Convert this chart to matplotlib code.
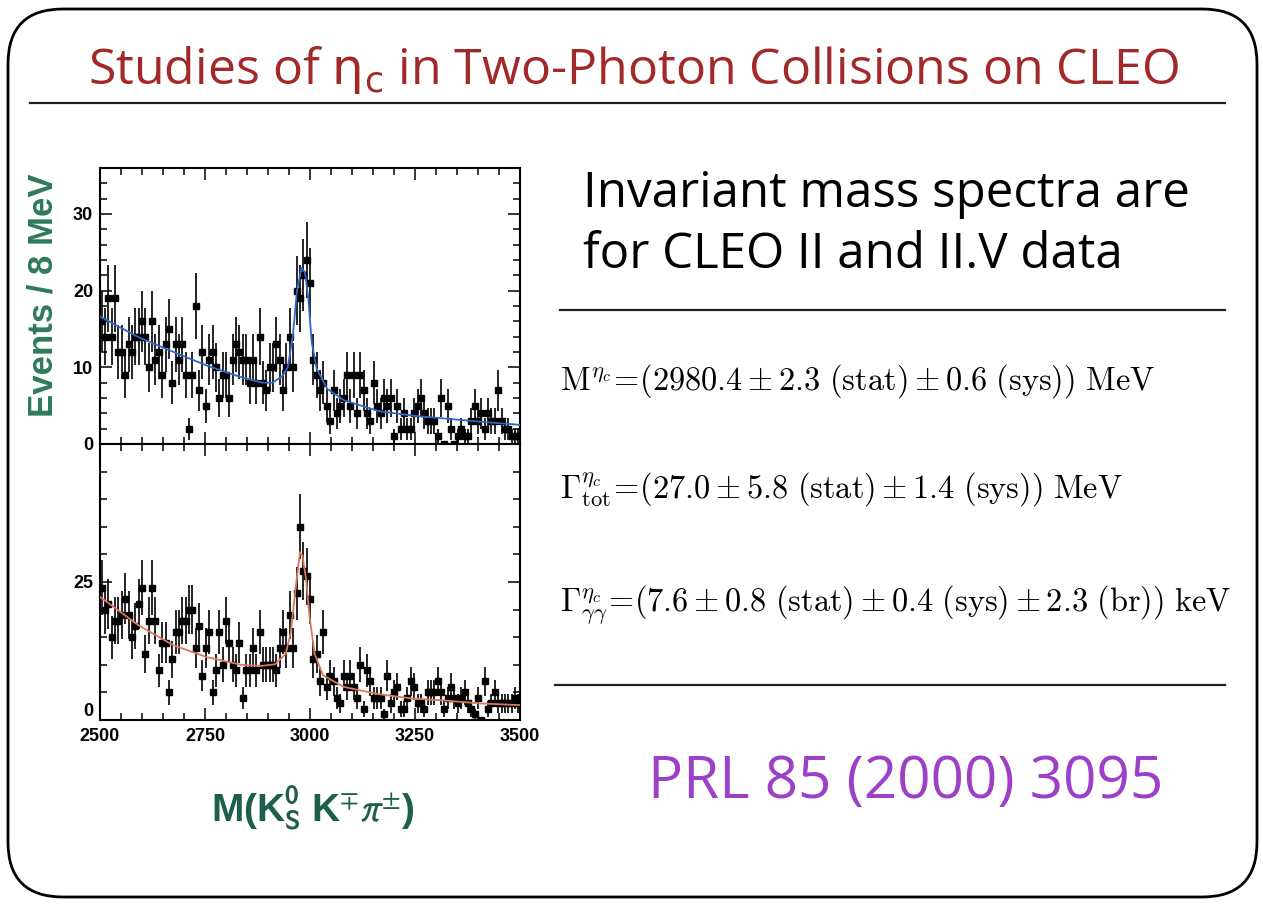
import numpy as np
import matplotlib
matplotlib.use('Agg')
import matplotlib.pyplot as plt
from matplotlib.patches import FancyBboxPatch
from matplotlib.ticker import MultipleLocator, FixedFormatter, FixedLocator

# ======================= DATA ============================================== #
# 8 MeV bins from 2500 to 3500 MeV
bin_edges = np.arange(2500, 3501, 8)

# upper panel: CLEO II
counts_top = [16, 14, 19, 14, 19, 12, 12, 9, 13, 12,
              14, 14, 16, 14, 10, 16, 11, 12, 9, 13,
              15, 8, 13, 11, 13, 9, 2, 9, 18, 7,
              12, 5, 11, 12, 10, 6, 9, 9, 6, 11,
              13, 12, 11, 11, 8, 11, 8, 14, 8, 7,
              10, 10, 13, 11, 7, 10, 14, 10, 20, 19,
              22, 24, 21, 11, 9, 7, 8, 5, 3, 7,
              4, 5, 6, 9, 5, 9, 4, 9, 7, 4,
              3, 8, 5, 4, 6, 5, 6, 1, 5, 2,
              4, 2, 2, 4, 5, 6, 4, 3, 3, 3,
              1, 6, 0, 5, 2, 0, 1, 2, 1, 1,
              3, 5, 3, 4, 2, 4, 3, 3, 7, 3,
              2, 2, 1, 1, 1]

# lower panel: CLEO II.V
counts_bot = [24, 20, 21, 15, 18, 18, 19, 22, 19, 15,
              17, 21, 24, 12, 18, 24, 18, 9, 14, 14,
              5, 11, 16, 16, 18, 18, 20, 20, 13, 17,
              8, 13, 16, 5, 9, 16, 10, 18, 14, 10,
              9, 14, 4, 9, 9, 13, 9, 16, 10, 10,
              10, 10, 9, 13, 16, 13, 19, 13, 23, 35,
              27, 26, 22, 11, 12, 7, 16, 6, 8, 7,
              4, 3, 8, 6, 8, 6, 4, 10, 2, 9,
              7, 4, 4, 4, 1, 8, 3, 5, 6, 2,
              2, 4, 7, 6, 3, 3, 2, 5, 5, 5,
              7, 5, 2, 4, 6, 4, 3, 4, 5, 3,
              2, 1, 4, 0, 7, 2, 3, 5, 3, 3,
              3, 3, 3, 4, 3]

# fitted curves (read at a few masses)
fit_top_m = [2500, 2593, 2675, 2756, 2837, 2886, 2911, 2935, 2947, 2959, 2969,
             2980, 2988, 2996, 3004, 3016, 3041, 3081, 3163, 3244, 3325, 3407, 3500]
fit_top_y = [16.6, 13.9, 12.0, 10.2, 8.7, 8.0, 8.0, 8.9, 10.0, 14.0, 20.0,
             23.0, 22.4, 19.0, 13.3, 9.8, 7.2, 5.7, 4.3, 3.7, 3.3, 2.9, 2.5]

fit_bot_m = [2500, 2591, 2673, 2754, 2836, 2885, 2917, 2942, 2954, 2966, 2976,
             2982, 2991, 2999, 3011, 3031, 3080, 3162, 3243, 3325, 3406, 3500]
fit_bot_y = [22.3, 17.2, 13.6, 11.4, 10.0, 9.8, 10.1, 12.0, 15.7, 24.0, 30.4,
             29.8, 25.3, 18.7, 12.0, 8.1, 6.0, 4.7, 3.9, 3.5, 3.0, 2.7]

title = r'Studies of $\mathrm{\eta}_{\mathrm{c}}$ in Two-Photon Collisions on CLEO'
blurb = ['Invariant mass spectra are', 'for CLEO II and II.V data']
results = [r'$\mathrm{M}^{\eta_c}\!=\!(2980.4 \pm 2.3\ (\mathrm{stat}) \pm 0.6\ (\mathrm{sys}))\ \mathrm{MeV}$',
           r'$\Gamma^{\eta_c}_{\mathrm{tot}}\!=\!(27.0 \pm 5.8\ (\mathrm{stat}) \pm 1.4\ (\mathrm{sys}))\ \mathrm{MeV}$',
           r'$\Gamma^{\eta_c}_{\gamma\gamma}\!=\!(7.6 \pm 0.8\ (\mathrm{stat}) \pm 0.4\ (\mathrm{sys}) \pm 2.3\ (\mathrm{br}))\ \mathrm{keV}$']
reference = 'PRL 85 (2000) 3095'

# ============================ SLIDE BACKGROUND ============================== #
W, H = 1263, 905
fig = plt.figure(figsize=(W / 100, H / 100), dpi=100)
bg = fig.add_axes([0, 0, 1, 1])
bg.set_xlim(0, W)
bg.set_ylim(H, 0)
bg.axis('off')

bg.add_patch(FancyBboxPatch((8, 9), 1249, 888, boxstyle='round,pad=0,rounding_size=55',
                            fc='white', ec='black', lw=2))
bg.plot([30, 1225], [103, 103], color='#222222', lw=1.6)
bg.plot([560, 1225], [310, 310], color='#222222', lw=1.6)
bg.plot([555, 1225], [685, 685], color='#222222', lw=1.6)

slide_font = ['Open Sans', 'DejaVu Sans']
bg.text(88, 84, title, fontsize=36, color='#a3282a', family=slide_font,
        math_fontfamily='dejavusans')
bg.text(583, 207, blurb[0], fontsize=35.5, color='black', family=slide_font)
bg.text(583, 268, blurb[1], fontsize=35.5, color='black', family=slide_font)
bg.text(648, 798, reference, fontsize=42, color='#9d40c8', family=slide_font)

for txt, yb in zip(results, [390, 498, 612]):
    bg.text(560, yb, txt, fontsize=23.3, color='black', math_fontfamily='cm')

# axis titles
bg.text(43, 295, 'Events / 8 MeV', rotation=90, ha='center', va='center',
        fontsize=25, fontweight='bold', color='#2f7a5c', family='Liberation Sans')
bg.text(313, 822, r'M(K$_{\mathbf{S}}^{\mathbf{0}}$ K$^{\mp}$$\pi^{\pm}$)', ha='center',
        fontsize=28, fontweight='bold', color='#1e5e4c', family='Liberation Sans',
        math_fontfamily='stixsans')

# ============================== THE SPECTRA ================================= #
centers = (bin_edges[:-1] + bin_edges[1:]) / 2
x0, x1 = 100 / W, 520 / W
ax_top = fig.add_axes([x0, 1 - 444 / H, x1 - x0, 276 / H])
ax_bot = fig.add_axes([x0, 1 - 720 / H, x1 - x0, 276 / H])

tick_font = dict(family=['Liberation Sans Narrow', 'Liberation Sans'], weight='bold', size=13)

for ax, counts, fm, fy, col, ymax in [(ax_top, counts_top, fit_top_m, fit_top_y, '#3565c8', 36),
                                      (ax_bot, counts_bot, fit_bot_m, fit_bot_y, '#d9775f', 50)]:
    n = np.array(counts, dtype=float)
    ax.errorbar(centers, n, yerr=np.sqrt(n), fmt='s', color='black', ms=5,
                elinewidth=1.2, capsize=0, zorder=3)
    ax.plot(fm, fy, color=col, lw=1.3, zorder=4)
    ax.set_xlim(2500, 3500)
    ax.set_ylim(0, ymax)
    ax.xaxis.set_major_locator(MultipleLocator(250))
    ax.xaxis.set_minor_locator(MultipleLocator(50))
    ax.tick_params(which='both', direction='in', top=True, right=True, width=1.1)
    ax.tick_params(which='major', length=8.5, pad=5)
    ax.tick_params(which='minor', length=5)
    for s in ax.spines.values():
        s.set_linewidth(1.5)

ax_top.yaxis.set_major_locator(MultipleLocator(10))
ax_top.yaxis.set_minor_locator(MultipleLocator(2))
ax_top.set_xticklabels([])

ax_bot.yaxis.set_major_locator(FixedLocator([0, 25, 50]))
ax_bot.yaxis.set_major_formatter(FixedFormatter(['0', '25', '']))
ax_bot.yaxis.set_minor_locator(MultipleLocator(5))
ax_bot.tick_params(axis='x', which='major', pad=6)

for lab in ax_bot.get_xticklabels() + ax_bot.get_yticklabels() + ax_top.get_yticklabels():
    lab.set_fontproperties(tick_font)
# the lower "0" sits a little above its tick, clear of "2500"
ax_bot.get_yticklabels()[0].set_verticalalignment('bottom')

fig.savefig('out.png', dpi=100)
